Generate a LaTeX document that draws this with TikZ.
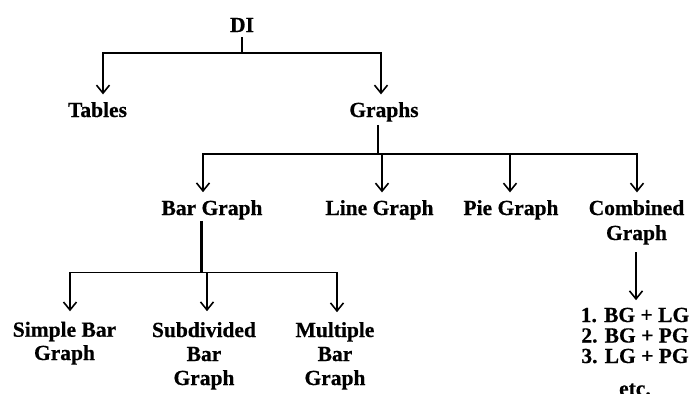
\documentclass[tikz,border=0pt]{standalone}
\usepackage{fontspec}
\setmainfont{Liberation Serif}[BoldFeatures={FakeBold=0.6}]
\usetikzlibrary{arrows.meta}
\begin{document}
\begin{tikzpicture}[x=1pt,y=-1pt,
  lbl/.style={font=\bfseries\fontsize{21.5}{24}\selectfont, inner sep=0pt, anchor=base, align=center},
  bus/.style={line width=1.6pt},
  stem/.style={line width=2.7pt},
  arr/.style={line width=1.6pt, -{Straight Barb[length=8pt,width=13pt,line width=1.6pt]}},
  thickarr/.style={arr, line width=2.2pt},
]
\useasboundingbox (0,0) rectangle (689,394);
\clip (0,0) rectangle (689,394);

% nodes (multi-line nodes: base = baseline of last line)
\node[lbl] (DI) at (242,32) {DI};
\node[lbl] (tables) at (97.5,117) {Tables};
\node[lbl] (graphs) at (384,117) {Graphs};
\node[lbl] (bar) at (212,215) {Bar Graph};
\node[lbl] (line) at (379.5,215) {Line Graph};
\node[lbl] (pie) at (511,215) {Pie Graph};
\node[lbl, font=\bfseries\fontsize{21.5}{25}\selectfont] (comb) at (636.5,240) {Combined\\Graph};
\node[lbl, font=\bfseries\fontsize{21.5}{23.3}\selectfont] (simple) at (64.5,360) {Simple Bar\\Graph};
\node[lbl] (subdiv) at (204,385) {Subdivided\\Bar\\Graph};
\node[lbl] (multi) at (335,385) {Multiple\\Bar\\Graph};
\node[lbl, font=\bfseries\fontsize{21.5}{20.5}\selectfont] (list) at (635,395.5) {1. BG + LG\\2. BG + PG\\3. LG + PG\\[12pt]etc.};

% level 1
\coordinate (b1) at ([yshift=-21pt]DI.south);
\draw[stem] ([yshift=-5pt]DI.south) -- (b1);
\draw[arr] (b1) -| ([xshift=5.5pt,yshift=7.5pt]tables.north);
\draw[arr] (b1) -| ([xshift=-3pt,yshift=7.5pt]graphs.north);

% level 2
\coordinate (b2) at ([xshift=-6pt,yshift=-32pt]graphs.south);
\draw[line width=2.2pt] ([xshift=-6pt,yshift=-3pt]graphs.south) -- (b2);
\draw[arr] (b2) -| ([xshift=-9pt,yshift=7.7pt]bar.north);
\draw[arr] (b2) -| ([xshift=0.5pt,yshift=7.5pt]comb.north);
\coordinate (tline) at ([xshift=2.5pt,yshift=7.5pt]line.north);
\draw[thickarr] (tline |- b2) -- (tline);
\coordinate (tpie) at ([xshift=-1pt,yshift=7.5pt]pie.north);
\draw[arr, line width=1.3pt] (tpie |- b2) -- (tpie);

% level 3
\coordinate (b3) at ([xshift=-10.3pt,yshift=-52.7pt]bar.south);
\draw[stem] ([xshift=-10.3pt,yshift=-1pt]bar.south) -- (b3);
\draw[arr] (b3) -| ([xshift=5.5pt,yshift=10.3pt]simple.north);
\coordinate (tmulti) at ([xshift=2pt,yshift=9.7pt]multi.north);
\draw[bus] (b3) -- (tmulti |- b3);
\draw[thickarr] (tmulti |- b3) -- (tmulti);
\coordinate (tsub) at ([xshift=3pt,yshift=10.7pt]subdiv.north);
\draw[arr, line width=1.3pt] (tsub |- b3) -- (tsub);

% combined
\draw[thickarr] ([xshift=-0.5pt,yshift=-7.4pt]comb.south) -- ([xshift=1pt,yshift=7.4pt]list.north);
\end{tikzpicture}
\end{document}
